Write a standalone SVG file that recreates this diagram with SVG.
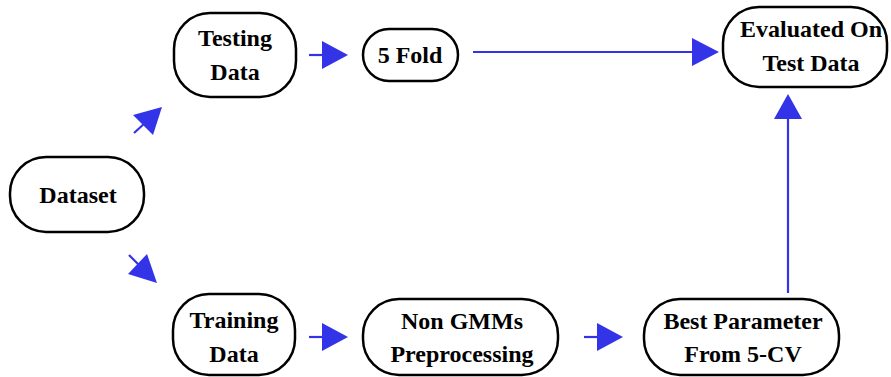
<svg xmlns="http://www.w3.org/2000/svg" width="891" height="377" viewBox="0 0 891 377">
<defs>
<style>
.node rect{fill:#fff;stroke:#000;stroke-width:2.5}
.node text{font-family:"Liberation Serif","Times New Roman",serif;font-weight:bold;font-size:24px;text-anchor:middle;fill:#000}
.conn line{stroke:#3333e8;stroke-width:2.2}
.conn polygon{fill:#3333e8}
</style>
</defs>
<rect width="891" height="377" fill="#fff"/>
<g id="dataset" class="node"><rect x="10" y="157" width="134" height="75" rx="36" ry="36"/><text x="78" y="203">Dataset</text></g>
<g id="testing" class="node"><rect x="174" y="13" width="122" height="84" rx="36" ry="36"/><text x="235" y="46">Testing</text><text x="235" y="80">Data</text></g>
<g id="fold" class="node"><rect x="363" y="29" width="95" height="52" rx="26" ry="26"/><text x="410" y="63">5 Fold</text></g>
<g id="evaluated" class="node"><rect x="723" y="7" width="164" height="80" rx="36" ry="36"/><text x="811" y="37">Evaluated On</text><text x="811" y="71">Test Data</text></g>
<g id="training" class="node"><rect x="173" y="294" width="122" height="81" rx="36" ry="36"/><text x="234" y="328">Training</text><text x="234" y="362">Data</text></g>
<g id="nongmm" class="node"><rect x="363" y="299" width="195" height="76" rx="36" ry="36"/><text x="462" y="329">Non GMMs</text><text x="462" y="362">Preprocessing</text></g>
<g id="best" class="node"><rect x="644" y="299" width="195" height="76" rx="36" ry="36"/><text x="743" y="329">Best Parameter</text><text x="743" y="362">From 5-CV</text></g>
<g id="connectors" class="conn">
<line x1="134" y1="133" x2="145" y2="123"/><polygon points="162,107 133,115 153,135"/>
<line x1="129" y1="255" x2="140" y2="266"/><polygon points="157,283 128,274 147,254"/>
<line x1="309" y1="55" x2="325" y2="55"/><polygon points="348,55 322,41 322,69"/>
<line x1="473" y1="52" x2="695" y2="52"/><polygon points="719,52 692,38 692,66"/>
<line x1="788" y1="293" x2="788" y2="115"/><polygon points="788,94 774,119 802,119"/>
<line x1="309" y1="337" x2="325" y2="337"/><polygon points="348,337 322,323 322,351"/>
<line x1="584" y1="337" x2="600" y2="337"/><polygon points="623,337 597,323 597,351"/>
</g>
</svg>
